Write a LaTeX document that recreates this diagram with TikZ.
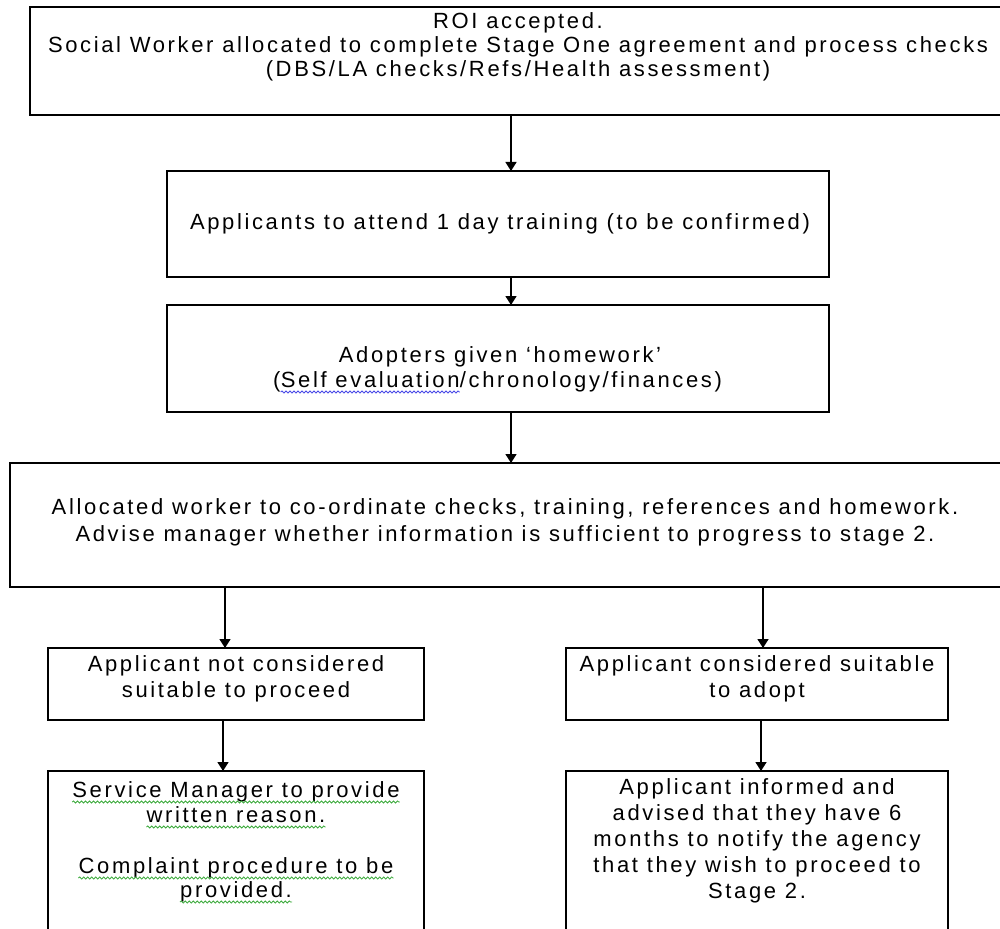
\documentclass[tikz,border=0pt]{standalone}
\usepackage{fontspec}
\setmainfont{Liberation Sans}[LetterSpace=12]
\usetikzlibrary{arrows.meta,decorations.pathmorphing}
\definecolor{wavegreen}{RGB}{60,170,60}
\definecolor{waveblue}{RGB}{70,70,230}
\begin{document}
\begin{tikzpicture}[x=1pt,y=-1pt,
  box/.style={draw, line width=1.6pt, inner sep=0pt, outer sep=0pt},
  txt/.style={align=center, inner sep=0pt, font=\fontsize{22}{#1}\selectfont},
  txt/.default=25,
  wv/.style={draw=#1, line width=0.8pt, decorate, decoration={snake, amplitude=1.1pt, segment length=4pt}},
  arr/.style={line width=1.6pt, -{Triangle[width=11pt,length=9pt]}}]
\useasboundingbox (0,0) rectangle (1000,928);
\clip (0,0) rectangle (1000,928);
% boxes
\node[box, minimum width=980pt, minimum height=108pt] (b1) at (520,61) {};
\node[box, minimum width=662pt, minimum height=106pt] (b2) at (498,224) {};
\node[box, minimum width=662pt, minimum height=107pt] (b3) at (498,358.5) {};
\node[box, minimum width=1000pt, minimum height=124pt] (b4) at (510,525) {};
\node[box, minimum width=376pt, minimum height=72pt] (b5l) at (236,684) {};
\node[box, minimum width=382pt, minimum height=72pt] (b5r) at (757,684) {};
\node[box, minimum width=376pt, minimum height=169pt] (b6l) at (236,855.5) {};
\node[box, minimum width=382pt, minimum height=169pt] (b6r) at (757,855.5) {};
% texts
\node[txt=24] (t1) at (518,47) {ROI accepted.\\Social Worker allocated to complete Stage One agreement and process checks\\(DBS/LA checks/Refs/Health assessment)};
\node[txt] (t2) at (500,224) {Applicants to attend 1 day training (to be confirmed)};
\node[txt, anchor=base] (t3a) at (500,362) {Adopters given `homework'};
\node[txt, anchor=base west] (t3b) at (273,387) {(};
\node[txt, anchor=base west] (t3c) at (t3b.base east) {Self evaluation};
\node[txt, anchor=base west] (t3d) at (t3c.base east) {/chronology/finances)};
\node[txt=27] (t4) at (505,522) {Allocated worker to co-ordinate checks, training, references and homework.\\Advise manager whether information is sufficient to progress to stage 2.};
\node[txt=26] (t5l) at (236,679) {Applicant not considered\\suitable to proceed};
\node[txt=26] (t5r) at (757,679) {Applicant considered suitable\\to adopt};
\node[txt, anchor=base] (t6a) at (236,797) {Service Manager to provide};
\node[txt, anchor=base] (t6b) at (236,822) {written reason.};
\node[txt, anchor=base] (t6c) at (236,873) {Complaint procedure to be};
\node[txt, anchor=base] (t6d) at (236,897) {provided.};
\node[txt=26] (t6r) at (757,840.5) {Applicant informed and\\advised that they have 6\\months to notify the agency\\that they wish to proceed to\\Stage 2.};
% wavy proofing underlines
\draw[wv=waveblue] ([yshift=-5pt]t3c.base west) -- ([yshift=-5pt]t3c.base east);
\foreach \n in {t6a,t6b,t6c,t6d}
  \draw[wv=wavegreen] ([yshift=-5pt]\n.base west) -- ([yshift=-5pt]\n.base east);
% connector columns
\coordinate (ax) at (511,0);
\coordinate (lx) at (225,0);
\coordinate (lx2) at (223,0);
\coordinate (rx) at (763,0);
\coordinate (rx2) at (761,0);
% connectors
\draw[arr] (b1.south -| ax) -- (b2.north -| ax);
\draw[arr] (b2.south -| ax) -- (b3.north -| ax);
\draw[arr] (b3.south -| ax) -- (b4.north -| ax);
\draw[arr] (b4.south -| lx) -- (b5l.north -| lx);
\draw[arr] (b4.south -| rx) -- (b5r.north -| rx);
\draw[arr] (b5l.south -| lx2) -- (b6l.north -| lx2);
\draw[arr] (b5r.south -| rx2) -- (b6r.north -| rx2);
\end{tikzpicture}
\end{document}
